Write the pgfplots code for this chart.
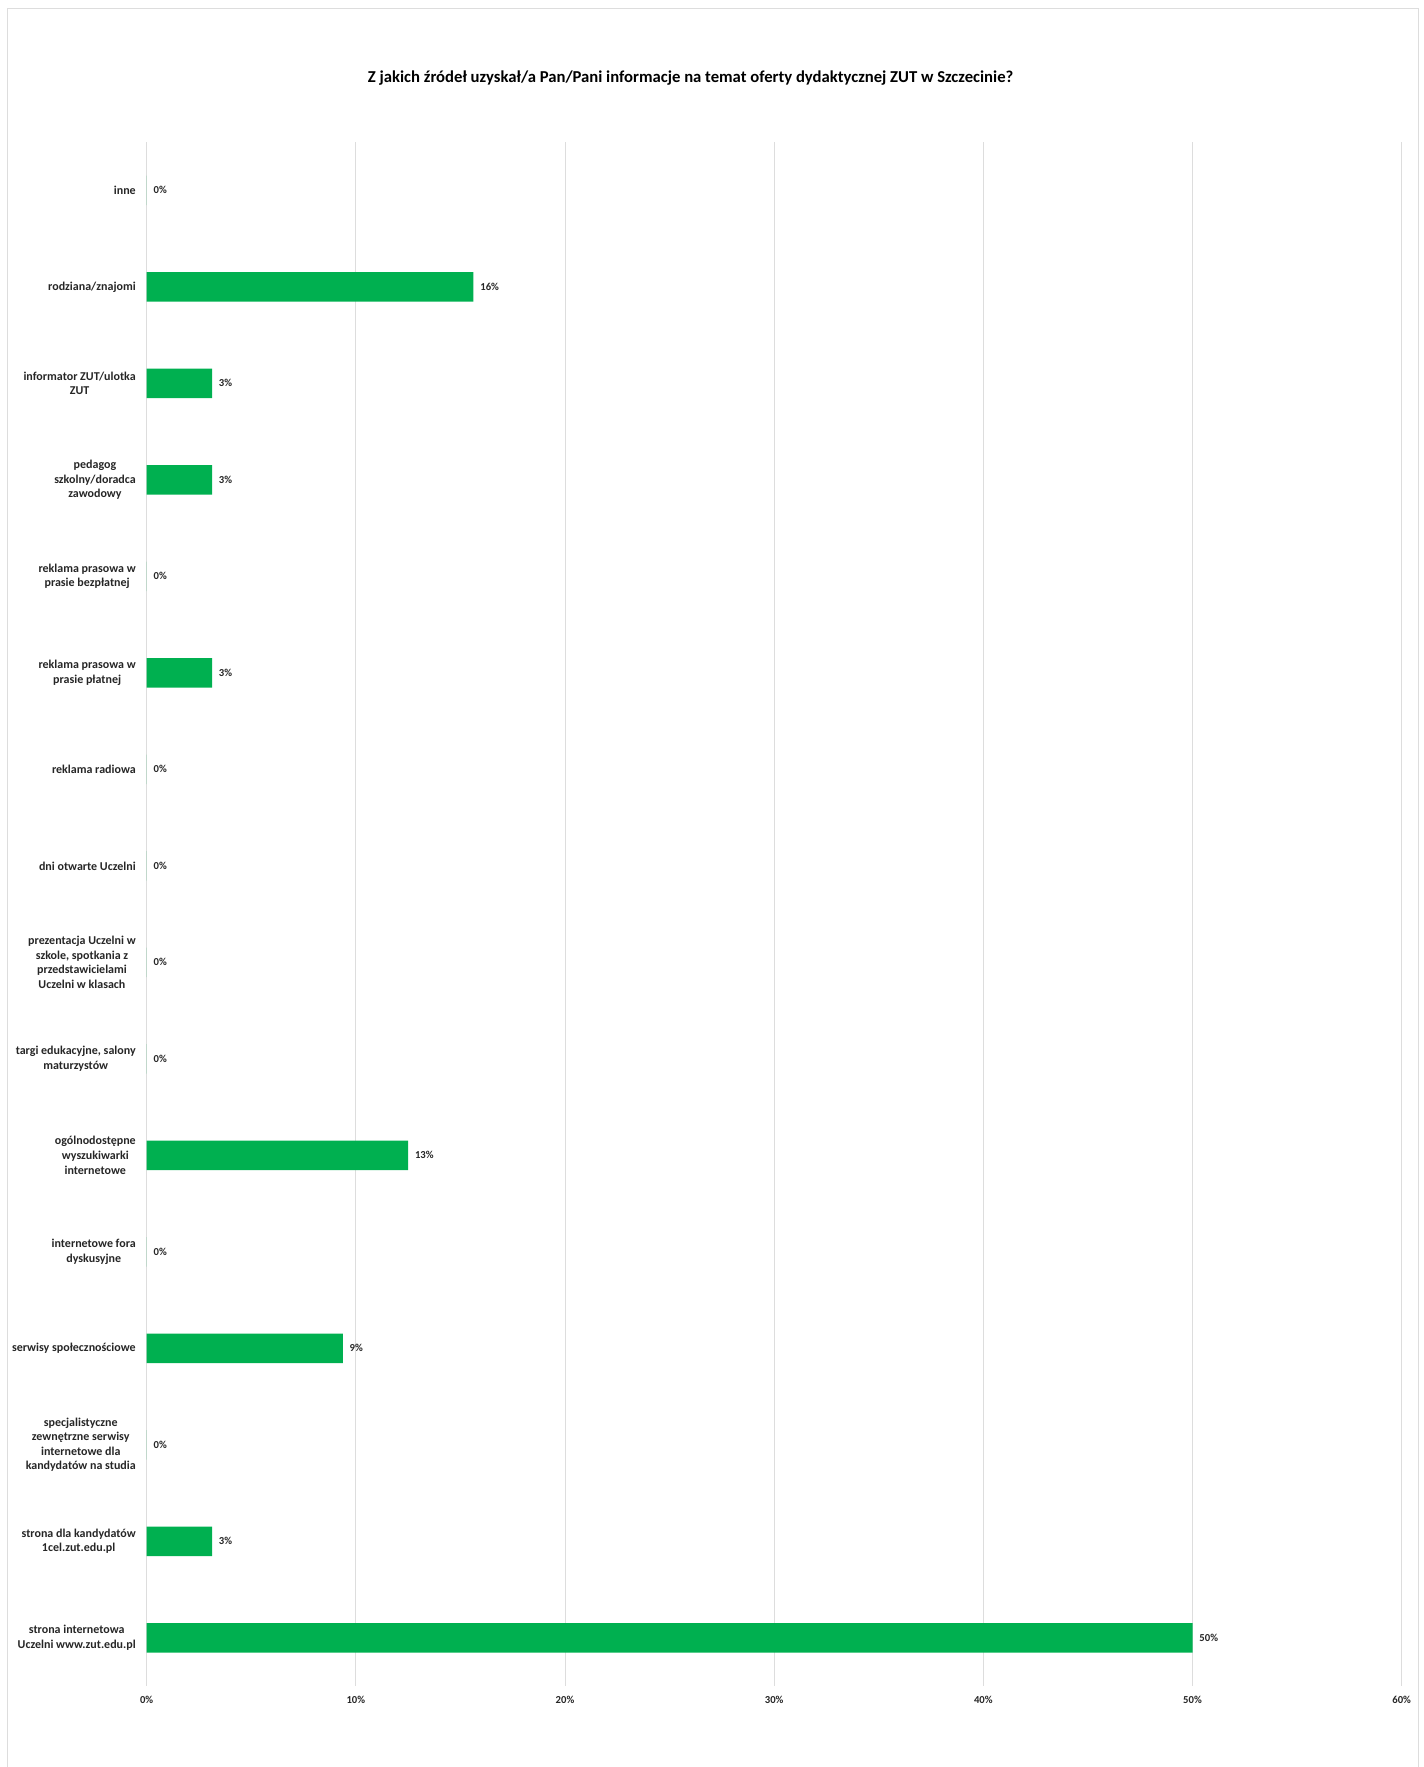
\documentclass[border=0pt]{standalone}
\usepackage{pgfplots}
\pgfplotsset{compat=1.18}
\usepackage{pgfplotstable}
\usepackage{fontspec}
\setmainfont{Carlito}
\definecolor{bargreen}{HTML}{00B050}
\definecolor{gridgray}{HTML}{DDDDDD}
\definecolor{txt}{HTML}{262626}

\pgfplotstableread{
y x lab
0 0 0
1 15.625 16
2 3.125 3
3 3.125 3
4 0 0
5 3.125 3
6 0 0
7 0 0
8 0 0
9 0 0
10 12.5 13
11 0 0
12 9.375 9
13 0 0
14 3.125 3
15 50 50
}\datatable

\begin{document}
\begin{tikzpicture}
\begin{scope}[x=0.75pt,y=0.75pt]
\useasboundingbox (0,0) rectangle (1424,1767);
\draw[gridgray, line width=0.75pt] (7.5,-5) -- (7.5,1758.5) -- (1418,1758.5) -- (1418,-5);
\node[font=\fontsize{12.5}{15}\selectfont\bfseries, text=black] at (690.6,1689) {Z jakich źródeł uzyskał/a Pan/Pani\ informacje na temat oferty dydaktycznej ZUT w Szczecinie?};
\end{scope}
\begin{axis}[
  at={(110pt,60.7pt)}, anchor=south west,
  scale only axis,
  width=941.25pt, height=1158pt,
  xbar, bar width=22pt,
  xmin=0, xmax=60,
  ymin=-0.5, ymax=15.5,
  y dir=reverse,
  axis lines=none,
  /pgf/number format/assume math mode=true,
  xmajorgrids, grid style={gridgray, line width=0.75pt},
  xtick={0,10,20,30,40,50,60},
  xticklabel={\pgfmathprintnumber{\tick}\%},
  major tick length=0pt,
  ytick={0,...,15},
  yticklabels={
    inne,
    rodziana/znajomi,
    {informator ZUT/ulotka\\ZUT},
    {pedagog\\szkolny/doradca\\zawodowy},
    {reklama prasowa w\\prasie bezpłatnej},
    {reklama prasowa w\\prasie płatnej},
    reklama radiowa,
    dni otwarte Uczelni,
    {prezentacja Uczelni w\\szkole, spotkania z\\przedstawicielami\\Uczelni w klasach},
    {targi edukacyjne, salony\\maturzystów},
    {ogólnodostępne\\wyszukiwarki\\internetowe},
    {internetowe fora\\dyskusyjne},
    serwisy społecznościowe,
    {specjalistyczne\\zewnętrzne serwisy\\internetowe dla\\kandydatów na studia},
    {strona dla kandydatów\\1cel.zut.edu.pl},
    {strona internetowa\\Uczelni www.zut.edu.pl}
  },
  hide x axis=false, hide y axis=false,
  x axis line style={draw=none}, y axis line style={draw=none},
  yticklabel style={anchor=east, align=center, inner sep=0pt, xshift=-8pt,
    font=\fontsize{9}{10.9}\selectfont\bfseries, text=txt},
  xticklabel style={anchor=center, inner sep=0pt, yshift=-10.5pt,
    font=\fontsize{8}{9.6}\selectfont\bfseries, text=txt},
  point meta=explicit,
  nodes near coords={\pgfmathprintnumber[fixed,precision=0,assume math mode=true]{\pgfplotspointmeta}\%},
  nodes near coords style={anchor=west, inner sep=0pt, xshift=5pt,
    font=\fontsize{8}{9.6}\selectfont\bfseries, text=txt},
  clip=false,
]
\addplot[fill=bargreen, draw=none] table[x=x, y=y, meta=lab] {\datatable};
\end{axis}
\end{tikzpicture}
\end{document}
